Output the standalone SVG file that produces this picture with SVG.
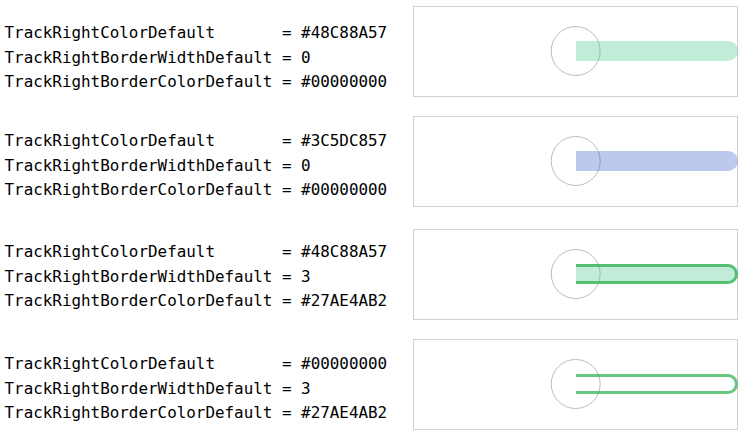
<svg xmlns="http://www.w3.org/2000/svg" width="745" height="435" viewBox="0 0 745 435">
<style>
.t{font-family:"DejaVu Sans Mono","Liberation Mono",monospace;font-size:15.9px;fill:#000;white-space:pre}
.box{fill:#fff;stroke:#d0d0d0;stroke-width:1}
.knob{fill:none;stroke:#bdbdbd;stroke-width:1}
.green{fill:#48C88A;fill-opacity:0.34}
.blue{fill:#3C5DC8;fill-opacity:0.34}
.border{fill:none;stroke:#27AE4A;stroke-opacity:0.7;stroke-width:3}
</style>
<rect width="745" height="435" fill="#fff"/>
<g id="example1">
<text class="t" x="4.5" y="38.3" xml:space="preserve">TrackRightColorDefault       = #48C88A57</text>
<text class="t" x="4.5" y="62.5" xml:space="preserve">TrackRightBorderWidthDefault = 0</text>
<text class="t" x="4.5" y="86.7" xml:space="preserve">TrackRightBorderColorDefault = #00000000</text>
<rect class="box" x="413.5" y="6.5" width="324" height="90"/>
<circle class="knob" cx="575.7" cy="51" r="24.5"/>
<path class="green" d="M576,41 H728 A10,10 0 0 1 728,61 H576 Z"/>
</g>
<g id="example2">
<text class="t" x="4.5" y="146.3" xml:space="preserve">TrackRightColorDefault       = #3C5DC857</text>
<text class="t" x="4.5" y="170.5" xml:space="preserve">TrackRightBorderWidthDefault = 0</text>
<text class="t" x="4.5" y="194.7" xml:space="preserve">TrackRightBorderColorDefault = #00000000</text>
<rect class="box" x="413.5" y="116.5" width="324" height="90"/>
<circle class="knob" cx="575.7" cy="161" r="24.5"/>
<path class="blue" d="M576,151 H728 A10,10 0 0 1 728,171 H576 Z"/>
</g>
<g id="example3">
<text class="t" x="4.5" y="257.3" xml:space="preserve">TrackRightColorDefault       = #48C88A57</text>
<text class="t" x="4.5" y="281.5" xml:space="preserve">TrackRightBorderWidthDefault = 3</text>
<text class="t" x="4.5" y="305.7" xml:space="preserve">TrackRightBorderColorDefault = #27AE4AB2</text>
<rect class="box" x="413.5" y="229.5" width="324" height="90"/>
<circle class="knob" cx="575.7" cy="274" r="24.5"/>
<path class="green" d="M576,264 H728 A10,10 0 0 1 728,284 H576 Z"/>
<path class="border" d="M576,265.5 H728 A8.5,8.5 0 0 1 728,282.5 H576"/>
</g>
<g id="example4">
<text class="t" x="4.5" y="369.3" xml:space="preserve">TrackRightColorDefault       = #00000000</text>
<text class="t" x="4.5" y="393.5" xml:space="preserve">TrackRightBorderWidthDefault = 3</text>
<text class="t" x="4.5" y="417.7" xml:space="preserve">TrackRightBorderColorDefault = #27AE4AB2</text>
<rect class="box" x="413.5" y="339.5" width="324" height="90"/>
<circle class="knob" cx="575.7" cy="384" r="24.5"/>
<path class="border" d="M576,375.5 H728 A8.5,8.5 0 0 1 728,392.5 H576"/>
</g>
</svg>
